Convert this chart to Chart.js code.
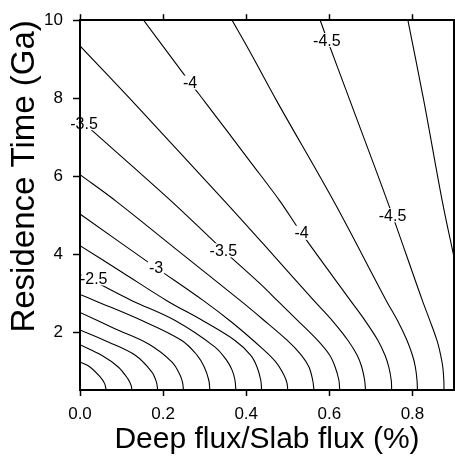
<!DOCTYPE html>
<html>
<head>
<meta charset="utf-8">
<script src="https://cdn.jsdelivr.net/npm/chart.js@4.4.1/dist/chart.umd.min.js"></script>
<style>
  html, body { margin: 0; padding: 0; background: #fff; }
  #wrap { width: 455px; height: 459px; }
</style>
</head>
<body>
<div id="wrap"><canvas id="contourChart"></canvas></div>
<script>
// contour levels, one per line below (log scale values)
const levels = [-1.25, -1.5, -1.75, -2, -2.25, -2.5, -2.75, -3, -3.25, -3.5, -3.75, -4, -4.25, -4.5, -4.75];

// each contour: [deep/slab flux, residence time]
const c125 = [[0, 1.24], [0.024, 1.11], [0.048, 0.86], [0.059, 0.69], [0.063, 0.52]];
const c150 = [[0, 1.68], [0.052, 1.41], [0.092, 1.11], [0.115, 0.81], [0.123, 0.64], [0.125, 0.52]];
const c175 = [[0, 2.06], [0.068, 1.75], [0.133, 1.41], [0.173, 0.98], [0.184, 0.72], [0.187, 0.52]];
const c200 = [[0, 2.51], [0.084, 2.09], [0.165, 1.70], [0.221, 1.24], [0.241, 0.90], [0.247, 0.70], [0.249, 0.52]];
const c225 = [[0, 2.97], [0.036, 2.81], [0.149, 2.30], [0.245, 1.79], [0.282, 1.41], [0.299, 1.11], [0.310, 0.77], [0.3125, 0.52]];
const c250 = [[0, 3.49], [0.055, 3.19], [0.125, 2.81], [0.229, 2.30], [0.325, 1.62], [0.353, 1.28], [0.366, 1.03], [0.373, 0.77], [0.375, 0.52]];
const c275 = [[0, 4.22], [0.104, 3.52], [0.209, 2.81], [0.295, 2.30], [0.373, 1.79], [0.411, 1.41], [0.426, 1.11], [0.435, 0.77], [0.437, 0.52]];
const c300 = [[0, 5.03], [0.181, 3.67], [0.297, 2.81], [0.366, 2.25], [0.439, 1.58], [0.471, 1.24], [0.491, 0.90], [0.498, 0.70], [0.5, 0.52]];
const c325 = [[0, 6.04], [0.088, 5.35], [0.237, 4.08], [0.386, 2.81], [0.439, 2.34], [0.499, 1.79], [0.533, 1.41], [0.551, 1.11], [0.560, 0.77], [0.563, 0.52]];
const c350 = [[0, 7.44], [0.024, 7.22], [0.221, 5.35], [0.345, 4.10], [0.439, 3.19], [0.475, 2.81], [0.524, 2.30], [0.572, 1.79], [0.601, 1.41], [0.614, 1.11], [0.623, 0.77], [0.625, 0.52]];
const c375 = [[0, 9.34], [0.128, 7.90], [0.349, 5.35], [0.439, 4.29], [0.563, 2.81], [0.607, 2.30], [0.645, 1.79], [0.667, 1.41], [0.678, 1.11], [0.685, 0.77], [0.687, 0.52]];
const c400 = [[0.153, 10], [0.265, 8.40], [0.301, 7.90], [0.410, 6.37], [0.482, 5.35], [0.533, 4.54], [0.651, 2.81], [0.686, 2.30], [0.717, 1.79], [0.734, 1.41], [0.743, 1.11], [0.749, 0.77], [0.750, 0.52]];
const c425 = [[0.366, 10], [0.410, 9.17], [0.475, 7.90], [0.611, 5.35], [0.737, 2.81], [0.764, 2.30], [0.787, 1.79], [0.800, 1.41], [0.807, 1.11], [0.811, 0.77], [0.812, 0.52]];
const c450 = [[0.578, 10], [0.595, 9.50], [0.651, 7.90], [0.740, 5.35], [0.824, 2.81], [0.842, 2.30], [0.859, 1.79], [0.868, 1.41], [0.873, 1.11], [0.8755, 0.77], [0.876, 0.52]];
const c475 = [[0.789, 10], [0.828, 7.90], [0.872, 5.35], [0.901, 3.88]];

const contours = [c125, c150, c175, c200, c225, c250, c275, c300, c325, c350, c375, c400, c425, c450, c475];

// inline contour labels
const labelLevels = [-4, -4.5, -3.5, -2.5, -3, -3.5, -4, -4.5];
const labelX = [0.265, 0.594, 0.0096, 0.033, 0.183, 0.345, 0.533, 0.752];
const labelY = [8.40, 9.49, 7.36, 3.38, 3.67, 4.10, 4.55, 5.00];

const xTickValues = [0, 0.2, 0.4, 0.6, 0.8];
const yTickValues = [2, 4, 6, 8, 10];

const FONT = '"Liberation Sans", Arial, Helvetica, sans-serif';
Chart.defaults.font.family = FONT;
Chart.defaults.color = '#000';

const contourLabels = {
    id: 'contourLabels',
    afterDatasetsDraw(chart) {
        const { ctx, chartArea, scales } = chart;
        ctx.save();
        ctx.font = '16px ' + FONT;
        ctx.textAlign = 'center';
        ctx.textBaseline = 'middle';
        labelLevels.forEach((lv, i) => {
            const px = scales.x.getPixelForValue(labelX[i]);
            const py = scales.y.getPixelForValue(labelY[i]);
            const text = String(lv);
            const w = ctx.measureText(text).width;
            // white gap in the line, kept inside the frame
            ctx.save();
            ctx.beginPath();
            ctx.rect(chartArea.left + 1.5, chartArea.top + 1.5, chartArea.width - 3, chartArea.height - 3);
            ctx.clip();
            ctx.fillStyle = '#fff';
            ctx.fillRect(px - w / 2 - 1, py - 7, w + 2, 14);
            ctx.restore();
            ctx.fillStyle = '#000';
            ctx.fillText(text, px, py + 1);
        });
        ctx.restore();
    }
};

const fixedTicks = (values) => (scale) => {
    scale.ticks = values.map(v => ({ value: v }));
};

new Chart(document.getElementById('contourChart'), {
    type: 'scatter',
    data: {
        datasets: contours.map((pts, i) => ({
            label: String(levels[i]),
            data: pts.map(p => ({ x: p[0], y: p[1] })),
            showLine: true,
            borderColor: '#000',
            borderWidth: 1.1,
            pointRadius: 0,
            tension: 0.35,
            fill: false
        }))
    },
    options: {
        responsive: true,
        maintainAspectRatio: false,
        animation: false,
        layout: { padding: 0 },
        plugins: {
            legend: { display: false },
            tooltip: { enabled: false }
        },
        scales: {
            x: {
                type: 'linear',
                position: 'bottom',
                min: 0,
                max: 0.9,
                afterFit: s => { s.height = 69; },
                afterBuildTicks: fixedTicks(xTickValues),
                ticks: {
                    font: { size: 17 },
                    padding: 8,
                    maxRotation: 0,
                    autoSkip: false,
                    callback: v => v.toFixed(1)
                },
                grid: { drawOnChartArea: false, color: '#000', tickLength: 6, tickWidth: 1.5 },
                border: { color: '#000', width: 2 },
                title: {
                    display: true,
                    text: 'Deep flux/Slab flux (%)',
                    font: { size: 30 },
                    padding: { top: 0, bottom: 1 }
                }
            },
            x2: {
                type: 'linear',
                position: 'top',
                min: 0,
                max: 0.9,
                afterFit: s => { s.height = 17; },
                afterBuildTicks: fixedTicks(xTickValues),
                ticks: { display: false },
                grid: { drawOnChartArea: false, color: '#000', tickLength: 6, tickWidth: 1.5 },
                border: { color: '#000', width: 2 }
            },
            y: {
                type: 'linear',
                position: 'left',
                min: 0.52,
                max: 10,
                afterFit: s => { s.width = 80; },
                afterBuildTicks: fixedTicks(yTickValues),
                ticks: {
                    font: { size: 17 },
                    padding: 10,
                    autoSkip: false,
                    callback: v => String(v)
                },
                grid: { drawOnChartArea: false, color: '#000', tickLength: 7, tickWidth: 1.5 },
                border: { color: '#000', width: 2 }, 
                title: {
                    display: true,
                    text: 'Residence Time (Ga)',
                    align: 'end',
                    font: { size: 33 },
                    padding: { top: 5, bottom: 0 }
                }
            },
            y2: {
                type: 'linear',
                position: 'right',
                min: 0.52,
                max: 10,
                afterFit: s => { s.width = 1; },
                ticks: { display: false },
                grid: { drawOnChartArea: false, drawTicks: false },
                border: { color: '#000', width: 2 }
            }
        }
    },
    plugins: [contourLabels]
});
</script>
</body>
</html>
